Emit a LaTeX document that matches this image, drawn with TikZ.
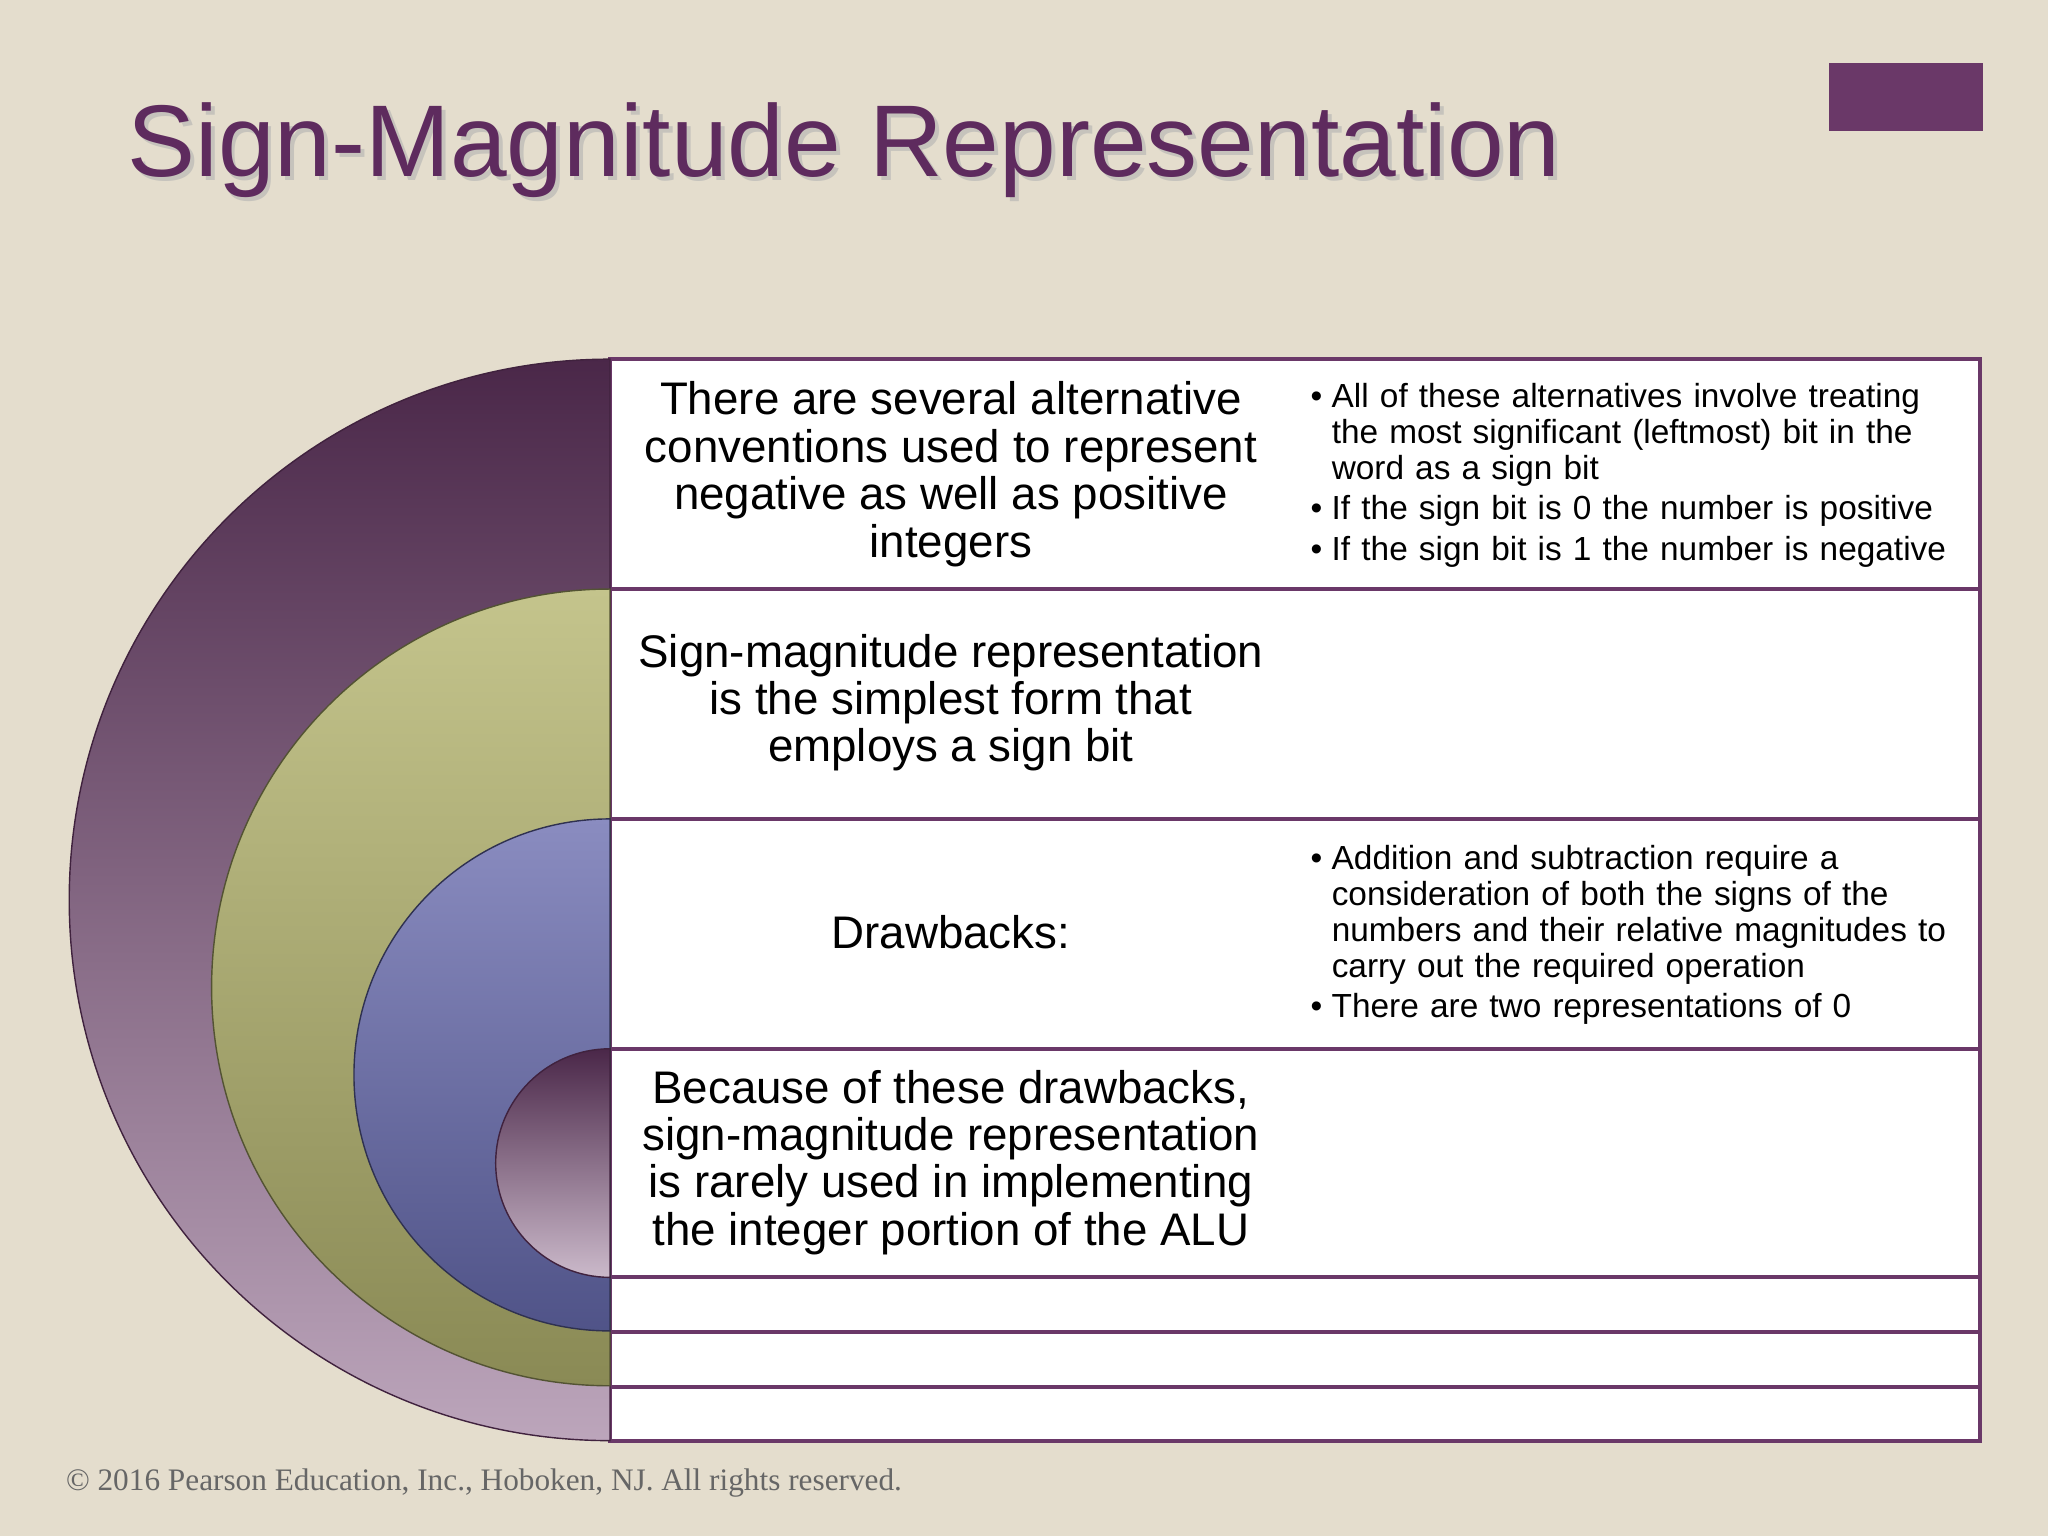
\documentclass[tikz,border=0pt]{standalone}
\usepackage{fontspec}
\setmainfont{Liberation Sans}
\newfontfamily\serifft{Liberation Serif}
\definecolor{bgc}{HTML}{E4DDCD}
\definecolor{purp}{HTML}{6A3868}
\definecolor{titlec}{HTML}{5E2B5E}
\definecolor{olA}{HTML}{C4C48C}
\definecolor{olB}{HTML}{9A9A62}
\definecolor{olC}{HTML}{8A8A55}
\definecolor{blA}{HTML}{8A8CC0}
\definecolor{blB}{HTML}{5E62A0}
\newcommand\bitem[1]{\noindent\makebox[0.21cm][l]{\textbullet}\parbox[t]{6.8cm}{#1}\par\vspace{1.5pt}}
\tikzset{
  cell/.style={draw=purp,line width=1.2pt,fill=white},
  lefttxt/.style={align=center,font=\fontsize{13}{13.5}\selectfont},
  righttxt/.style={text width=7cm,align=left,anchor=north west,inner sep=0pt,font=\fontsize{9.5}{10.2}\selectfont}
}
\begin{document}
\begin{tikzpicture}[x=0.013061cm,y=0.013061cm]
\fill[bgc] (0,0) rectangle (1568,1176);
\useasboundingbox (0,0) rectangle (1568,1176);
\fill[purp] (1400,1076) rectangle (1518,1128);
\node[anchor=base west,inner sep=0pt,text=black!30,opacity=0.6,font=\fontsize{29}{30}\selectfont] at (100,1038) {Sign-Magnitude Representation};
\node (title)[anchor=base west,inner sep=0pt,text=titlec,font=\fontsize{29}{30}\selectfont] at (97,1041) {Sign-Magnitude Representation};
% table
\foreach \a/\b in {901/725,725/549,549/373,373/198,198/156,156/114,114/73}
  \draw[cell] (467,\a) rectangle (1516,\b);
% semicircles
\shade[top color=purp!70!black,bottom color=purp!45!white,draw=purp!60!black] (467,901) arc[start angle=90,end angle=270,radius=414] -- cycle;
\shade[top color=olA,middle color=olB,bottom color=olC,draw=olC!60!black] (467,725) arc[start angle=90,end angle=270,radius=305] -- cycle;
\shade[top color=blA,middle color=blB,bottom color=blB!85!black,draw=blB!50!black] (467,549) arc[start angle=90,end angle=270,radius=196] -- cycle;
\shade[top color=purp!70!black,bottom color=purp!35!white,draw=purp!60!black] (467,373) arc[start angle=90,end angle=270,radius=87.5] -- cycle;
% texts
\node (t1)[lefttxt] at (728,813) {There are several alternative\\conventions used to represent\\negative as well as positive\\integers};
\node (b1)[righttxt] at (1003,883) {\bitem{All of these alternatives involve treating\newline the most significant (leftmost) bit in the\newline word as a sign bit}\bitem{If the sign bit is 0 the number is positive}\bitem{If the sign bit is 1 the number is negative}};
\node (t2)[lefttxt] at (728,638) {Sign-magnitude representation\\is the simplest form that\\employs a sign bit};
\node (t3)[lefttxt] at (728,462) {Drawbacks:};
\node (b3)[righttxt] at (1003,529) {\bitem{Addition and subtraction require a\newline consideration of both the signs of the\newline numbers and their relative magnitudes to\newline carry out the required operation}\bitem{There are two representations of 0}};
\node (t4)[lefttxt] at (728,286) {Because of these drawbacks,\\sign-magnitude representation\\is rarely used in implementing\\the integer portion of the ALU};
\node (copy)[anchor=base west,inner sep=0pt,text=black!60,font=\serifft\fontsize{8.9}{9}\selectfont] at (50,35) {© 2016 Pearson Education, Inc., Hoboken, NJ. All rights reserved.};
\end{tikzpicture}
\end{document}
